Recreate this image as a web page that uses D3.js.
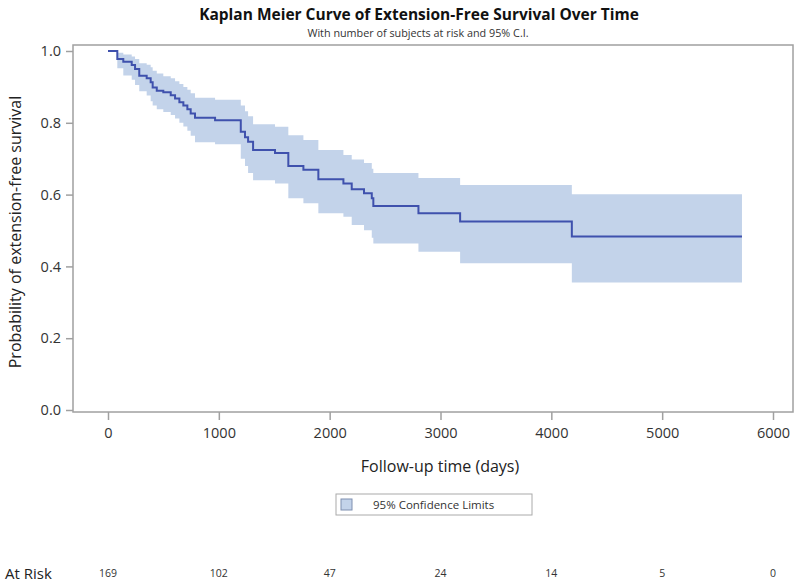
<!DOCTYPE html>
<html>
<head>
<meta charset="utf-8">
<script src="https://cdn.jsdelivr.net/npm/d3@7"></script>
<style>
  body { margin: 0; background: #fff; }
  svg { display: block; }
  text { font-family: "Open Sans", "Noto Sans", sans-serif; }
</style>
</head>
<body>
<svg id="chart" width="800" height="588"></svg>
<script>
// ---- data ----
const eventTimes = [0, 84, 138, 214, 244, 282, 349, 385, 403, 440, 499, 566, 605, 644, 680, 716, 746, 785, 966,
  1198, 1236, 1264, 1309, 1507, 1627, 1763, 1898, 2124, 2199, 2310, 2380, 2394, 2801, 3177, 4185];
const survival = [1.0, 0.978, 0.970, 0.961, 0.950, 0.931, 0.924, 0.913, 0.898, 0.889, 0.885, 0.877, 0.868, 0.857, 0.848, 0.838, 0.826, 0.814, 0.807,
  0.775, 0.760, 0.747, 0.724, 0.716, 0.680, 0.669, 0.643, 0.631, 0.615, 0.604, 0.590, 0.568, 0.548, 0.525, 0.483];
const lowerCI = [1.0, 0.952, 0.932, 0.920, 0.905, 0.888, 0.876, 0.860, 0.848, 0.838, 0.830, 0.822, 0.812, 0.800, 0.790, 0.778, 0.764, 0.746, 0.740,
  0.700, 0.680, 0.660, 0.640, 0.631, 0.590, 0.576, 0.548, 0.538, 0.515, 0.501, 0.480, 0.464, 0.441, 0.409, 0.355];
const upperCI = [1.0, 0.995, 0.990, 0.985, 0.978, 0.966, 0.962, 0.955, 0.945, 0.937, 0.930, 0.924, 0.916, 0.908, 0.900, 0.892, 0.882, 0.870, 0.864,
  0.848, 0.832, 0.818, 0.796, 0.789, 0.765, 0.752, 0.724, 0.710, 0.698, 0.688, 0.672, 0.660, 0.646, 0.627, 0.601];
const lastTime = 5720;
const xTicks = [0, 1000, 2000, 3000, 4000, 5000, 6000];
const yTicks = [0.0, 0.2, 0.4, 0.6, 0.8, 1.0];
const atRiskTimes = [0, 1000, 2000, 3000, 4000, 5000, 6000];
const atRiskCounts = [169, 102, 47, 24, 14, 5, 0];

const title = "Kaplan Meier Curve of Extension-Free Survival Over Time";
const subtitle = "With number of subjects at risk and 95% C.I.";
const xTitle = "Follow-up time (days)";
const yTitle = "Probability of extension-free survival";
const legendLabel = "95% Confidence Limits";

// ---- layout ----
const svg = d3.select("#chart");
const frame = { left: 73, right: 793, top: 45, bottom: 412 };
const x = d3.scaleLinear().domain([0, 6000]).range([108, 773]);
const y = d3.scaleLinear().domain([0, 1]).range([410, 51]);

const lineColor = "#3f51ad";
const bandColor = "#c3d3ea";
const frameColor = "#a0a0a0";
const textColor = "#333";

// build step records
const pts = eventTimes.map((t, i) => ({ t, s: survival[i], lo: lowerCI[i], hi: upperCI[i] }));
pts.push({ t: lastTime, s: survival[survival.length - 1], lo: lowerCI[lowerCI.length - 1], hi: upperCI[upperCI.length - 1] });

// band
const area = d3.area().curve(d3.curveStepAfter)
  .x(d => x(d.t)).y0(d => y(d.lo)).y1(d => y(d.hi));
svg.append("path").datum(pts).attr("d", area).attr("fill", bandColor);

// curve
const line = d3.line().curve(d3.curveStepAfter).x(d => x(d.t)).y(d => y(d.s));
svg.append("path").datum(pts).attr("d", line)
  .attr("fill", "none").attr("stroke", lineColor).attr("stroke-width", 2);

// frame
svg.append("rect")
  .attr("x", frame.left).attr("y", frame.top)
  .attr("width", frame.right - frame.left).attr("height", frame.bottom - frame.top)
  .attr("fill", "none").attr("stroke", frameColor).attr("stroke-width", 1.5);

// axes
const xAxis = d3.axisBottom(x).tickValues(xTicks).tickFormat(d3.format("d")).tickSize(8).tickPadding(8);
const gx = svg.append("g").attr("transform", `translate(0,${frame.bottom})`).call(xAxis);
gx.select(".domain").remove();
gx.selectAll("line").attr("stroke", frameColor).attr("stroke-width", 1.5);
gx.selectAll("text").attr("fill", textColor).attr("font-size", 14.5);

const yAxis = d3.axisLeft(y).tickValues(yTicks).tickFormat(d3.format(".1f")).tickSize(7).tickPadding(5);
const gy = svg.append("g").attr("transform", `translate(${frame.left},0)`).call(yAxis);
gy.select(".domain").remove();
gy.selectAll("line").attr("stroke", frameColor).attr("stroke-width", 1.5);
gy.selectAll("text").attr("fill", textColor).attr("font-size", 14.5);

// titles
svg.append("text").attr("x", 419).attr("y", 20).attr("text-anchor", "middle")
  .attr("font-size", 15.5).attr("font-weight", "bold").attr("fill", "#111").text(title);
svg.append("text").attr("x", 418).attr("y", 37).attr("text-anchor", "middle")
  .attr("font-size", 10.8).attr("fill", textColor).text(subtitle);
svg.append("text").attr("x", 440).attr("y", 472).attr("text-anchor", "middle")
  .attr("font-size", 16).attr("fill", "#222").text(xTitle);
svg.append("text").attr("transform", "translate(21,232) rotate(-90)").attr("text-anchor", "middle")
  .attr("font-size", 16).attr("fill", "#222").text(yTitle);

// legend
const lg = svg.append("g");
lg.append("rect").attr("x", 336).attr("y", 494).attr("width", 196).attr("height", 21)
  .attr("fill", "#fff").attr("stroke", "#aaa").attr("stroke-width", 1);
lg.append("rect").attr("x", 341).attr("y", 499).attr("width", 11).attr("height", 11)
  .attr("fill", bandColor).attr("stroke", "#7f8fb0").attr("stroke-width", 1);
lg.append("text").attr("x", 373).attr("y", 509).attr("font-size", 11.5).attr("fill", textColor).text(legendLabel);

// at risk row
svg.append("text").attr("x", 5).attr("y", 579).attr("font-size", 15).attr("fill", "#222").text("At Risk");
svg.append("g").selectAll("text").data(atRiskTimes).join("text")
  .attr("x", d => x(d)).attr("y", 577).attr("text-anchor", "middle")
  .attr("font-size", 10.5).attr("fill", textColor)
  .text((d, i) => atRiskCounts[i]);
</script>
</body>
</html>
